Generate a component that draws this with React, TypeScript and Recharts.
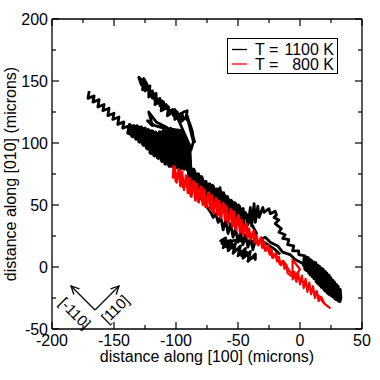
import React from "react";
import { Legend, Line, LineChart, XAxis, YAxis } from "recharts";

const xTicks = [-200, -175, -150, -125, -100, -75, -50, -25, 0, 25, 50];
const yTicks = [-50, -25, 0, 25, 50, 75, 100, 125, 150, 175, 200];
const temps = ["1100 K", "800 K"];
const colors = ["#000000", "#ff0000"];

// random walk traces, [x, y] in microns
const walk1100: [number, number][] = [
  // left streak
  [-170, 142], [-171, 136], [-166, 138], [-167, 133], [-162, 135], [-163, 129], [-158, 131], [-159, 126],
  [-154, 128], [-155, 122], [-150, 124], [-151, 119], [-146, 121], [-147, 115], [-142, 117], [-143, 112],
  [-137, 114], [-139, 108],
  // main blob, forward
  [-137.5, 115], [-136, 106], [-134.5, 114], [-133, 104], [-131.5, 114], [-130, 101], [-128.5, 113], [-127, 99],
  [-125.5, 112], [-124, 96], [-122.5, 111], [-121, 92], [-119.5, 110], [-118, 90], [-116.5, 109], [-115, 88],
  [-113.5, 109], [-112, 86], [-110.5, 110], [-109, 83], [-107.5, 111], [-106, 82], [-104.5, 112], [-103, 81],
  [-101.5, 111], [-100, 80], [-98.5, 109], [-97, 79], [-95.5, 108], [-94, 79], [-92.5, 104], [-91, 78],
  [-89.5, 98], [-88, 79],
  // main blob, back
  [-88.75, 96], [-90.25, 78], [-91.75, 103], [-93.25, 79], [-94.75, 107.5], [-96.25, 79], [-97.75, 109], [-99.25, 80],
  [-100.75, 110], [-102.25, 80.5], [-103.75, 111.5], [-105.25, 81], [-106.75, 111], [-108.25, 83], [-109.75, 110], [-111.25, 85],
  [-112.75, 109], [-114.25, 87.5], [-115.75, 108], [-117.25, 89.5], [-118.75, 109.5], [-120.25, 91.5], [-121.75, 110.5], [-123.25, 95],
  [-124.75, 112], [-126.25, 98], [-127.75, 113], [-129.25, 100.5], [-130.75, 113.5], [-132.25, 103], [-133.75, 114], [-135.25, 105],
  [-136.75, 114.5], [-138.25, 107.5], [-88, 94], [-86, 101],
  // upper streak
  [-91, 121], [-94, 119], [-95, 123], [-98, 121], [-99, 125], [-102, 122], [-103, 127], [-106, 124],
  [-107, 130], [-110, 127], [-110, 133], [-113, 130], [-113, 136], [-116, 133], [-116, 139], [-119, 136],
  [-119, 142], [-122, 139], [-122, 145], [-125, 142], [-125, 149], [-128, 147], [-130, 153], [-127, 150],
  [-126, 145], [-123, 146], [-121, 140], [-118, 140], [-117, 134], [-114, 135], [-112, 129], [-108, 131],
  [-105, 125], [-101, 127], [-97, 121], [-94, 125], [-91, 126], [-92, 120], [-89, 116], [-87, 110],
  [-86, 104], [-85, 101], [-91, 122], [-96, 117], [-96, 124], [-101, 119], [-101, 126], [-107, 122],
  [-106, 129], [-112, 126], [-111, 134], [-117, 131], [-116, 140], [-122, 137], [-121, 146], [-127, 143],
  [-126, 152], [-120, 141], [-110, 130], [-100, 123],
  // spurs on the upper side of the blob
  [-88, 96], [-95, 110], [-110, 112], [-117, 114], [-123, 118], [-119, 114], [-122, 125], [-116, 117],
  [-108, 113], [-98, 104], [-92, 90], [-90, 80],
  // band, forward
  [-90, 70], [-88.5, 81], [-87, 68], [-85.5, 79], [-84, 65], [-82.5, 75], [-81, 63], [-79.5, 73],
  [-78, 60], [-76.5, 69], [-75, 58], [-73.5, 67], [-72, 56], [-70.5, 66], [-69, 53], [-67.5, 63],
  [-66, 52], [-64.5, 64], [-63, 49], [-61.5, 60], [-60, 46], [-58.5, 57], [-57, 43], [-55.5, 54],
  [-54, 41], [-52.5, 52], [-51, 38], [-49.5, 50], [-48, 35], [-46.5, 47], [-45, 32],
  // band, back
  [-45.75, 47], [-47.25, 34], [-48.75, 49], [-50.25, 37], [-51.75, 51], [-53.25, 39], [-54.75, 53], [-56.25, 42.5],
  [-57.75, 55], [-59.25, 45], [-60.75, 58], [-62.25, 48], [-63.75, 61], [-65.25, 49], [-66.75, 63], [-68.25, 52.5],
  [-69.75, 65], [-71.25, 55], [-72.75, 67], [-74.25, 56], [-75.75, 69], [-77.25, 60], [-78.75, 72], [-80.25, 62],
  [-81.75, 75], [-83.25, 64.5], [-84.75, 77], [-86.25, 67], [-87.75, 80], [-89.25, 69.5],
  // under the red band
  [-72, 44], [-70, 40], [-68, 43], [-66, 36], [-64, 41], [-62, 30], [-60, 38], [-58, 27],
  [-56, 35], [-54, 24], [-52, 31], [-50, 20], [-48, 28], [-46, 18], [-44, 26], [-42, 16],
  [-40, 23], [-38, 14], [-36, 21],
  // lower-left spur
  [-64, 21], [-60, 23.5], [-62, 15.5], [-56, 21.5], [-58, 13], [-52, 19], [-54, 11], [-48, 17],
  [-50, 9], [-44, 15], [-46, 7], [-40, 12.5], [-42, 4.5], [-36, 10.5], [-36, 6], [-37, 8],
  [-41, 6], [-43, 12], [-47, 9], [-49, 15], [-53, 13], [-55, 19], [-59, 16], [-61, 21],
  [-63, 19], [-50, 22], [-35, 27],
  // hook
  [-44, 44], [-42, 34], [-40, 48], [-39, 33], [-37, 51], [-36, 36], [-34, 49], [-33, 40],
  [-30, 48], [-29, 44], [-25, 47], [-24, 43], [-20, 45], [-19, 42], [-21, 40], [-17, 38],
  [-20, 35], [-15, 31], [-17, 28], [-12, 26], [-14, 23], [-9, 22], [-10, 18], [-5, 17],
  [-6, 13], [-1, 13], [-1, 10], [4, 9], [3, 6],
  // right lobe, forward
  [4, -2], [5.5, 8], [7, -5], [8.5, 6], [10, -8], [11.5, 4], [13, -12], [14.5, 1.5],
  [16, -15], [17.5, -1], [19, -18], [20.5, -3.5], [22, -21], [23.5, -6.5], [25, -23], [26.5, -10.5],
  [28, -25.5], [29.5, -14], [31, -27.5], [32.5, -18], [33, -25],
  // right lobe, back
  [32.25, -28], [30.75, -15.5], [29.25, -26.5], [27.75, -12], [26.25, -24], [24.75, -8.5], [23.25, -22], [21.75, -5],
  [20.25, -19.5], [18.75, -2], [17.25, -16.5], [15.75, 0.5], [14.25, -13.5], [12.75, 3.5], [11.25, -9.5], [9.75, 5],
  [8.25, -6.5], [6.75, 7.5], [5.25, -3],
  // back along the lower chain
  [2, 3], [-4, 6], [-8, 10], [-14, 12], [-18, 17], [-24, 20], [-28, 24], [-32, 22],
  [-26, 18], [-20, 14], [-16, 10],
];

const walk800: [number, number][] = [
  [-102, 82], [-102.5, 72], [-101, 81], [-99.5, 68], [-98, 79], [-96.5, 65], [-95, 77], [-93.5, 62],
  [-92, 74], [-90.5, 59.5], [-89, 72], [-87.5, 56.5], [-86, 69.5], [-84.5, 53.5], [-83, 67], [-81.5, 52],
  [-80, 65], [-78.5, 50], [-77, 62.5], [-75.5, 48], [-74, 60], [-72.5, 46], [-71, 58], [-69.5, 43.5],
  [-68, 55.5], [-66.5, 41.5], [-65, 53.5], [-63.5, 39.5], [-62, 51.5], [-60.5, 37.5], [-59, 49], [-57.5, 35],
  [-56, 47], [-54.5, 32.5], [-53, 44.5], [-51.5, 30], [-50, 42], [-48.5, 28], [-47, 38], [-45.5, 26],
  [-44, 35], [-42.5, 24], [-41, 31], [-39.5, 22], [-38, 28], [-36.5, 20], [-35, 25.5], [-33.5, 17.5],
  [-32, 23], [-30.5, 15.5], [-29, 20], [-27.5, 13], [-26, 17], [-24.5, 10], [-23, 14], [-21.5, 7.5],
  [-20, 11], [-18.5, 4.5], [-17, 8], [-15.5, 1.5], [-14, 5], [-12.5, -1.5], [-11, 2], [-10, -5],
  // lobe
  [-6, -8], [-6, 6], [-3, 2], [0, -2], [-6, -10], [-4.5, -4], [-3, -12], [-1.5, -5],
  [0, -14], [1.5, -7], [3, -17], [4.5, -9.5], [6, -20], [7.5, -12.5], [9, -22], [10.5, -15.5],
  [12, -25], [13.5, -19.5], [15, -27.5], [17, -24], [20, -30], [24, -33], [19, -29], [15, -23],
  // back up the band
  [-8, -4], [-13.25, 4.75], [-16.25, 2.2], [-19.25, 10.75], [-22.25, 7.25], [-25.25, 17.5], [-28.25, 13.25], [-31.25, 24],
  [-34.25, 18], [-37.25, 29.5], [-40.25, 22.2], [-43.25, 35.25], [-46.25, 26.4], [-49.25, 41.4], [-52.25, 30.8], [-55.25, 46.2],
  [-58.25, 35.6], [-61.25, 50.9], [-64.25, 40], [-67.25, 55.4], [-70.25, 44.2], [-73.25, 60], [-76.25, 48.4], [-79.25, 64.4],
  [-82.25, 52.7], [-85.25, 68.9], [-88.25, 57.25], [-91.25, 73.8], [-94.25, 64.1], [-97.25, 78.4], [-100.25, 69], [-101.75, 81.8],
];

const toPoints = (w: [number, number][]) => w.map(([x, y]) => ({ x, y }));

const FONT = "'Liberation Sans', Arial, Helvetica, sans-serif";

function AxisTick(props: any) {
  const { x, y, payload, side } = props;
  const v = payload.value;
  const major = v % 50 === 0;
  const len = major ? 7 : 4;
  const st = { stroke: "#000", strokeWidth: 1.2 };
  if (side === "bottom") {
    return (
      <g>
        <line x1={x} y1={y} x2={x} y2={y - len} {...st} />
        {major && (
          <text x={x} y={y + 11} dy="0.36em" textAnchor="middle" fontSize={16} fontFamily={FONT} fill="#000">
            {v}
          </text>
        )}
      </g>
    );
  }
  if (side === "top") return <line x1={x} y1={y} x2={x} y2={y + len} {...st} />;
  if (side === "left") {
    return (
      <g>
        <line x1={x} y1={y} x2={x + len} y2={y} {...st} />
        {major && (
          <text x={x - 4} y={y} dy="0.36em" textAnchor="end" fontSize={16} fontFamily={FONT} fill="#000">
            {v}
          </text>
        )}
      </g>
    );
  }
  return <line x1={x} y1={y} x2={x - len} y2={y} {...st} />;
}

function LegendBox(props: any) {
  const items = props.payload || [];
  return (
    <div style={{ width: 111, height: 36, border: "1.3px solid #000", boxSizing: "border-box", background: "#fff" }}>
      <svg width={109} height={34} style={{ display: "block" }}>
        {items.map((it: any, i: number) => {
          const cy = 10.5 + i * 14.5;
          const [pre, val] = String(it.value).split("= ");
          return (
            <g key={i}>
              <line x1={4} x2={19} y1={cy} y2={cy} stroke={it.color} strokeWidth={1.3} />
              <text x={27} y={cy} dy="0.36em" fontSize={16} fontFamily={FONT} fill="#000">{pre + "="}</text>
              <text x={106} y={cy} dy="0.36em" textAnchor="end" fontSize={16} fontFamily={FONT} fill="#000">{val}</text>
            </g>
          );
        })}
      </svg>
    </div>
  );
}

export default function App() {
  const axisLine = { stroke: "#000", strokeWidth: 1.3 };
  return (
    <div style={{ position: "fixed", left: 0, top: 0, width: 380, height: 380, background: "#fff" }}>
      <LineChart width={380} height={380} margin={{ top: 0, right: 0, bottom: 0, left: 0 }}>
        <XAxis xAxisId="b" dataKey="x" type="number" domain={[-200, 50]} allowDataOverflow ticks={xTicks}
          interval={0} tickSize={0} tickMargin={0} tickLine={false} axisLine={axisLine} height={51}
          tick={(p: any) => <AxisTick {...p} side="bottom" />}
          label={{ value: "distance along [100] (microns)", position: "insideBottom", offset: 18, fontSize: 16, fontFamily: FONT, fill: "#000" }} />
        <XAxis xAxisId="t" orientation="top" dataKey="x" type="number" domain={[-200, 50]} allowDataOverflow
          ticks={xTicks} interval={0} tickSize={0} tickMargin={0} tickLine={false} axisLine={axisLine} height={19}
          tick={(p: any) => <AxisTick {...p} side="top" />} />
        <YAxis yAxisId="l" type="number" domain={[-50, 200]} allowDataOverflow ticks={yTicks} interval={0}
          tickSize={0} tickMargin={0} tickLine={false} axisLine={axisLine} width={52}
          tick={(p: any) => <AxisTick {...p} side="left" />}
          label={{ value: "distance along [010] (microns)", angle: -90, position: "insideLeft", offset: 10, fontSize: 16, fontFamily: FONT, fill: "#000", style: { textAnchor: "middle" } }} />
        <YAxis yAxisId="r" orientation="right" type="number" domain={[-50, 200]} allowDataOverflow ticks={yTicks}
          interval={0} tickSize={0} tickMargin={0} tickLine={false} axisLine={axisLine} width={18}
          tick={(p: any) => <AxisTick {...p} side="right" />} />
        <Line xAxisId="t" yAxisId="r" data={toPoints(walk800)} dataKey="y" stroke="none" dot={false}
          legendType="none" isAnimationActive={false} />
        <Line xAxisId="b" yAxisId="l" data={toPoints(walk1100)} dataKey="y" name={`T = ${temps[0]}`}
          stroke={colors[0]} strokeWidth={2.8} strokeLinejoin="round" dot={false} isAnimationActive={false} />
        <Line xAxisId="b" yAxisId="l" data={toPoints(walk800)} dataKey="y" name={`T = ${temps[1]}`}
          stroke={colors[1]} strokeWidth={2.2} strokeLinejoin="round" dot={false} isAnimationActive={false} />
        <Legend layout="horizontal" verticalAlign="middle" align="center" content={<LegendBox />}
          wrapperStyle={{ left: 227, top: 38, width: 111, height: 36 }} />
      </LineChart>
      <svg width={380} height={380} style={{ position: "absolute", left: 0, top: 0, pointerEvents: "none" }}>
        <defs>
          <marker id="ah" markerWidth={10} markerHeight={10} refX={9} refY={5} orient="auto" markerUnits="userSpaceOnUse">
            <path d="M1,1 L9,5 L1,9" fill="none" stroke="#000" strokeWidth={1.3} />
          </marker>
        </defs>
        <line x1={95} y1={310} x2={71} y2={286} stroke="#000" strokeWidth={1.3} markerEnd="url(#ah)" />
        <line x1={95} y1={310} x2={119} y2={286} stroke="#000" strokeWidth={1.3} markerEnd="url(#ah)" />
        <text transform="translate(75,313) rotate(45)" dy="0.36em" textAnchor="middle" fontSize={15} fontFamily={FONT} fill="#000">[-110]</text>
        <text transform="translate(115,309) rotate(-45)" dy="0.36em" textAnchor="middle" fontSize={15} fontFamily={FONT} fill="#000">[110]</text>
      </svg>
    </div>
  );
}
